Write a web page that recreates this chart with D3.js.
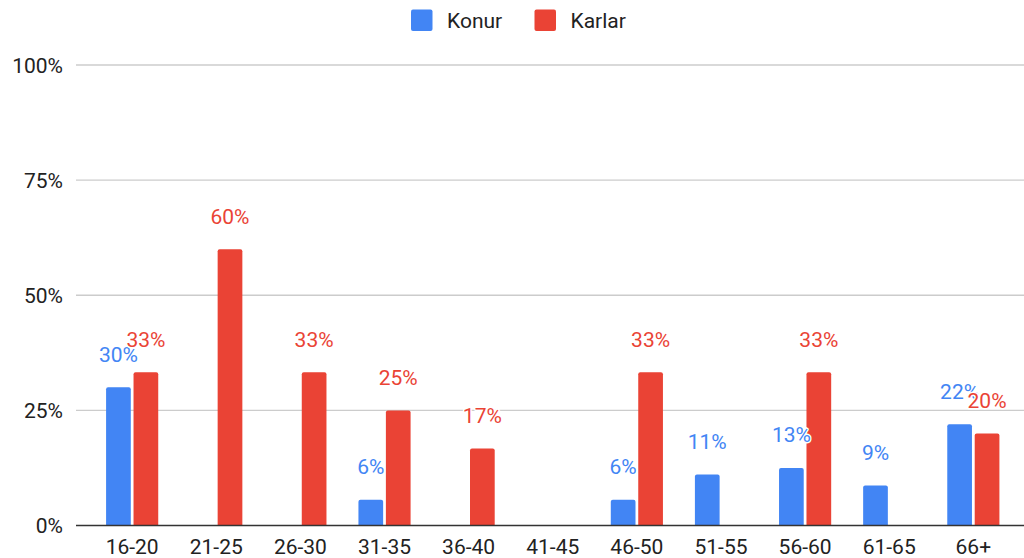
<!DOCTYPE html>
<html><head><meta charset="utf-8">
<script src="https://cdn.jsdelivr.net/npm/d3@7"></script>
<style>body{margin:0;background:#fff}svg{display:block}text{font-family:Roboto,Arial,sans-serif}</style>
</head><body><svg id="c" width="1024" height="558"></svg>
<script>
const categories = ["16-20","21-25","26-30","31-35","36-40","41-45","46-50","51-55","56-60","61-65","66+"];
const seriesNames = ["Konur","Karlar"];
const konur = [30.0, 0, 0, 5.6, 0, 0, 5.6, 11.1, 12.5, 8.7, 22.0];
const karlar = [33.3, 60.0, 33.3, 25.0, 16.7, 0, 33.3, 0, 33.3, 0, 20.0];
const konurLabels = ["30%","","","6%","","","6%","11%","13%","9%","22%"];
const karlarLabels = ["33%","60%","33%","25%","17%","","33%","","33%","","20%"];
const yTicks = [0, 25, 50, 75, 100];
const colors = ["#4285f4","#ea4335"];
const FS = 21;

const svg = d3.select("#c");
const x0 = d3.scaleBand().domain(categories).range([90.1, 1015.4]).paddingInner(0.38).paddingOuter(0.19);
const x1 = d3.scaleBand().domain(seriesNames).range([0, x0.bandwidth()]).paddingInner(0.1);
const y = d3.scaleLinear().domain([0, 100]).range([525.5, 65]);

// gridlines
svg.append("g").selectAll("line").data(yTicks.filter(d=>d>0)).join("line")
  .attr("x1", 76).attr("x2", 1024).attr("y1", d=>y(d)).attr("y2", d=>y(d))
  .attr("stroke", "#cccccc").attr("stroke-width", 1.3);
// y labels
svg.append("g").selectAll("text").data(yTicks).join("text")
  .attr("x", 63).attr("y", d=>y(d)).attr("dy","0.36em").attr("text-anchor","end")
  .attr("font-size", FS).attr("fill","#222").text(d=>d+"%");

const data = categories.map((c,i)=>({c, vals:[{s:"Konur",v:konur[i],l:konurLabels[i]},{s:"Karlar",v:karlar[i],l:karlarLabels[i]}]}));

// bars
const g = svg.append("g");
data.forEach(d=>{
  d.vals.forEach((e,j)=>{
    if(e.v<=0) return;
    const bx = x0(d.c)+x1(e.s), bw = x1.bandwidth(), top = y(e.v);
    g.append("path").attr("fill", colors[j])
      .attr("d", `M${bx},${y(0)}V${top+2}Q${bx},${top} ${bx+2},${top}H${bx+bw-2}Q${bx+bw},${top} ${bx+bw},${top+2}V${y(0)}Z`);
  });
});
// baseline
svg.append("line").attr("x1",76).attr("x2",1024).attr("y1",y(0)).attr("y2",y(0)).attr("stroke","#333").attr("stroke-width",1.5);

// x labels
svg.append("g").selectAll("text").data(categories).join("text")
  .attr("x", d=>x0(d)+x0.bandwidth()/2).attr("y", 546).attr("dy","0.36em")
  .attr("text-anchor","middle").attr("font-size",FS).attr("fill","#222").text(d=>d);

// value labels (Konur first, then Karlar on top)
[0,1].forEach(j=>{
  data.forEach(d=>{
    const e = d.vals[j];
    if(!e.l) return;
    const cx = x0(d.c)+x1(e.s)+x1.bandwidth()/2;
    svg.append("text").attr("x",cx).attr("y",y(e.v)-33).attr("dy","0.36em")
      .attr("text-anchor","middle").attr("font-size",FS).attr("fill",colors[j])
      .attr("stroke","#fff").attr("stroke-width",3).attr("paint-order","stroke")
      .attr("stroke-linejoin","round").text(e.l);
  });
});

// legend
const leg = svg.append("g");
const legX = [411, 534.5];
seriesNames.forEach((s,i)=>{
  leg.append("rect").attr("x",legX[i]).attr("y",9.5).attr("width",21.5).attr("height",21.5).attr("rx",2).attr("fill",colors[i]);
  leg.append("text").attr("x",legX[i]+36).attr("y",20).attr("dy","0.36em").attr("font-size",FS).attr("fill","#222").text(s);
});
</script></body></html>
